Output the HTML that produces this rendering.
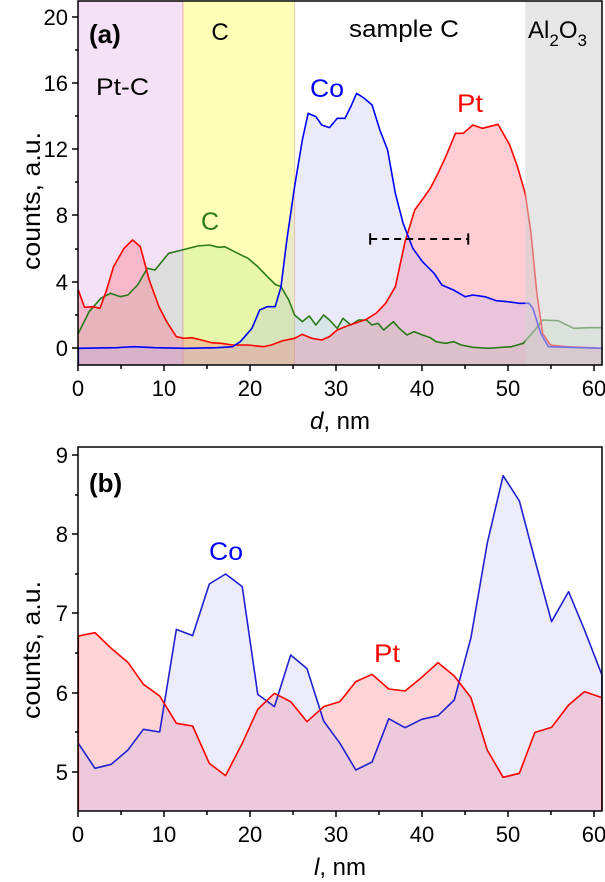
<!DOCTYPE html>
<html><head><meta charset="utf-8"><style>
html,body{margin:0;padding:0;background:#fff}
svg{display:block}
text{font-family:"Liberation Sans",Arial,sans-serif;fill:#000}
.ln{fill:none;stroke-width:1.6;vector-effect:non-scaling-stroke;stroke-linejoin:round}
</style></head><body>
<svg width="605" height="882" viewBox="0 0 605 882" xmlns="http://www.w3.org/2000/svg">
<!-- TOP PANEL -->
<g transform="scale(0.38760,0.33333)">
<rect x="202" y="3" width="270" height="1092" fill="#f5e1f5"/>
<rect x="472" y="3" width="288" height="1092" fill="#ffffb8"/>
<line x1="472" y1="3" x2="472" y2="1095" stroke="#f4a8c0" stroke-width="1" vector-effect="non-scaling-stroke"/>
<line x1="760" y1="3" x2="760" y2="1095" stroke="#f8c8a0" stroke-width="1" vector-effect="non-scaling-stroke"/>
<path d="M202,1095 L202,1000 230,935 260,895 285,880 310,890 330,885 355,855 380,805 400,810 435,760 470,750 510,738 540,735 565,742 580,740 610,758 640,775 665,800 690,830 710,853 725,860 745,900 760,945 780,965 798,948 815,975 835,945 850,960 870,985 885,955 905,975 925,960 945,960 960,975 975,970 990,990 1015,965 1030,985 1050,1005 1068,995 1090,1005 1110,1013 1125,1025 1150,1030 1170,1025 1190,1035 1220,1042 1260,1045 1320,1040 1350,1030 1380,990 1400,960 1440,962 1480,985 1520,983 1555,983 L1555,1095Z" fill="rgba(90,200,90,0.15)"/>
<path d="M202,1095 L202,870 218,922 240,920 258,925 275,870 293,800 320,745 342,720 362,740 385,840 410,920 430,965 455,1010 475,1015 495,1013 520,1020 545,1028 570,1030 600,1035 640,1035 680,1040 700,1035 730,1022 760,1015 780,1003 805,1015 830,1020 850,1010 870,990 895,978 920,968 945,958 970,940 995,910 1020,860 1045,725 1070,630 1095,590 1110,565 1130,520 1150,470 1175,400 1195,400 1220,375 1245,385 1285,373 1315,435 1335,500 1355,580 1370,700 1385,880 1400,1000 1420,1035 1460,1040 1555,1045 L1555,1095Z" fill="rgba(255,90,110,0.30)"/>
<path d="M202,1095 L202,1045 300,1043 345,1040 400,1043 480,1045 560,1043 600,1040 620,1025 650,985 670,930 690,920 710,920 725,860 740,720 760,560 780,420 795,340 815,350 830,375 850,383 870,355 890,355 905,320 920,280 940,295 960,315 980,390 1000,450 1020,580 1040,670 1065,745 1090,785 1120,820 1140,855 1170,870 1200,890 1220,885 1250,890 1280,902 1310,905 1340,910 1365,910 1375,925 1395,1000 1415,1040 1555,1045 L1555,1095Z" fill="rgba(170,170,240,0.25)"/>
<path class="ln" stroke="#2a7a1a" d="M202,1000 230,935 260,895 285,880 310,890 330,885 355,855 380,805 400,810 435,760 470,750 510,738 540,735 565,742 580,740 610,758 640,775 665,800 690,830 710,853 725,860 745,900 760,945 780,965 798,948 815,975 835,945 850,960 870,985 885,955 905,975 925,960 945,960 960,975 975,970 990,990 1015,965 1030,985 1050,1005 1068,995 1090,1005 1110,1013 1125,1025 1150,1030 1170,1025 1190,1035 1220,1042 1260,1045 1320,1040 1350,1030 1380,990 1400,960 1440,962 1480,985 1520,983 1555,983"/>
<path class="ln" stroke="#ff0000" d="M202,870 218,922 240,920 258,925 275,870 293,800 320,745 342,720 362,740 385,840 410,920 430,965 455,1010 475,1015 495,1013 520,1020 545,1028 570,1030 600,1035 640,1035 680,1040 700,1035 730,1022 760,1015 780,1003 805,1015 830,1020 850,1010 870,990 895,978 920,968 945,958 970,940 995,910 1020,860 1045,725 1070,630 1095,590 1110,565 1130,520 1150,470 1175,400 1195,400 1220,375 1245,385 1285,373 1315,435 1335,500 1355,580 1370,700 1385,880 1400,1000 1420,1035 1460,1040 1555,1045"/>
<path class="ln" stroke="#0000ff" d="M202,1095 202,1045 300,1043 345,1040 400,1043 480,1045 560,1043 600,1040 620,1025 650,985 670,930 690,920 710,920 725,860 740,720 760,560 780,420 795,340 815,350 830,375 850,383 870,355 890,355 905,320 920,280 940,295 960,315 980,390 1000,450 1020,580 1040,670 1065,745 1090,785 1120,820 1140,855 1170,870 1200,890 1220,885 1250,890 1280,902 1310,905 1340,910 1365,910 1375,925 1395,1000 1415,1040 1555,1045"/>
<rect x="1355" y="3" width="200" height="1092" fill="rgba(210,210,210,0.55)"/>
<line x1="955" y1="717" x2="1208" y2="717" stroke="#000" stroke-width="2" stroke-dasharray="7,5" vector-effect="non-scaling-stroke"/>
<line x1="955" y1="700" x2="955" y2="734" stroke="#000" stroke-width="2" vector-effect="non-scaling-stroke"/>
<line x1="1208" y1="700" x2="1208" y2="734" stroke="#000" stroke-width="2" vector-effect="non-scaling-stroke"/>
</g>
<rect x="78" y="1" width="524" height="364" fill="none" stroke="#000" stroke-width="1.5"/>
<g stroke="#000" stroke-width="1.5">
<line x1="72" y1="17" x2="78" y2="17"/><line x1="72" y1="83" x2="78" y2="83"/><line x1="72" y1="149" x2="78" y2="149"/><line x1="72" y1="215" x2="78" y2="215"/><line x1="72" y1="282" x2="78" y2="282"/><line x1="72" y1="348" x2="78" y2="348"/>
<line x1="75" y1="50" x2="78" y2="50"/><line x1="75" y1="116" x2="78" y2="116"/><line x1="75" y1="182" x2="78" y2="182"/><line x1="75" y1="249" x2="78" y2="249"/><line x1="75" y1="315" x2="78" y2="315"/>
<line x1="78" y1="365" x2="78" y2="371"/><line x1="164" y1="365" x2="164" y2="371"/><line x1="250" y1="365" x2="250" y2="371"/><line x1="336" y1="365" x2="336" y2="371"/><line x1="422" y1="365" x2="422" y2="371"/><line x1="508" y1="365" x2="508" y2="371"/><line x1="594" y1="365" x2="594" y2="371"/>
<line x1="121" y1="365" x2="121" y2="369"/><line x1="207" y1="365" x2="207" y2="369"/><line x1="293" y1="365" x2="293" y2="369"/><line x1="379" y1="365" x2="379" y2="369"/><line x1="465" y1="365" x2="465" y2="369"/><line x1="551" y1="365" x2="551" y2="369"/>
</g>
<g font-size="22" text-anchor="end">
<text x="68" y="25">20</text><text x="68" y="91">16</text><text x="68" y="157">12</text><text x="68" y="223">8</text><text x="68" y="290">4</text><text x="68" y="356">0</text>
</g>
<g font-size="22" text-anchor="middle">
<text x="78" y="396">0</text><text x="164" y="396">10</text><text x="250" y="396">20</text><text x="336" y="396">30</text><text x="422" y="396">40</text><text x="508" y="396">50</text><text x="594" y="396">60</text>
</g>
<text x="340" y="429" font-size="24" text-anchor="middle"><tspan font-style="italic">d</tspan>, nm</text>
<text transform="translate(40,201) rotate(-90)" font-size="25" text-anchor="middle" textLength="138" lengthAdjust="spacingAndGlyphs">counts, a.u.</text>
<text x="89" y="43" font-size="26" font-weight="bold">(a)</text>
<text x="220" y="40" font-size="24" text-anchor="middle">C</text>
<text x="349" y="37" font-size="24" textLength="110" lengthAdjust="spacingAndGlyphs">sample C</text>
<text x="528" y="38" font-size="24">Al<tspan font-size="17" dy="8">2</tspan><tspan dy="-8">O</tspan><tspan font-size="17" dy="8">3</tspan></text>
<text x="96" y="95" font-size="24" textLength="53" lengthAdjust="spacingAndGlyphs">Pt-C</text>
<text x="310" y="97" font-size="25" style="fill:#0000ff" textLength="34" lengthAdjust="spacingAndGlyphs">Co</text>
<text x="457" y="112" font-size="25" style="fill:#ff0000" textLength="26" lengthAdjust="spacingAndGlyphs">Pt</text>
<text x="201" y="230" font-size="25" style="fill:#2a7a1a">C</text>

<!-- BOTTOM PANEL -->
<g transform="translate(0,440) scale(0.38760,0.33333)">
<path d="M202,1113 L202,588 245,578 287,625 330,667 370,733 412,768 455,850 497,858 540,970 582,1007 625,910 665,808 708,760 750,785 792,845 835,800 877,785 918,725 960,703 1003,747 1045,753 1088,712 1130,668 1172,708 1215,773 1257,930 1298,1012 1340,1000 1380,877 1423,862 1467,795 1508,755 1553,773 L1553,1113Z" fill="rgba(255,100,110,0.28)"/>
<path d="M202,1113 L202,910 245,985 287,973 330,930 370,868 412,876 455,568 497,587 540,432 582,402 625,440 665,763 708,800 750,645 792,686 835,843 877,910 918,990 960,966 1003,836 1045,863 1088,838 1130,827 1172,780 1215,593 1257,310 1298,107 1340,183 1380,360 1423,545 1467,455 1508,570 1553,705 L1553,1113Z" fill="rgba(170,170,240,0.22)"/>
<path class="ln" stroke="#2020d0" d="M202,910 245,985 287,973 330,930 370,868 412,876 455,568 497,587 540,432 582,402 625,440 665,763 708,800 750,645 792,686 835,843 877,910 918,990 960,966 1003,836 1045,863 1088,838 1130,827 1172,780 1215,593 1257,310 1298,107 1340,183 1380,360 1423,545 1467,455 1508,570 1553,705 1553,770"/>
<path class="ln" stroke="#ff0000" d="M202,1113 202,588 245,578 287,625 330,667 370,733 412,768 455,850 497,858 540,970 582,1007 625,910 665,808 708,760 750,785 792,845 835,800 877,785 918,725 960,703 1003,747 1045,753 1088,712 1130,668 1172,708 1215,773 1257,930 1298,1012 1340,1000 1380,877 1423,862 1467,795 1508,755 1553,773 1553,1113"/>
</g>
<rect x="78" y="447" width="524" height="364" fill="none" stroke="#000" stroke-width="1.5"/>
<g stroke="#000" stroke-width="1.5">
<line x1="72" y1="455" x2="78" y2="455"/><line x1="72" y1="534" x2="78" y2="534"/><line x1="72" y1="613" x2="78" y2="613"/><line x1="72" y1="693" x2="78" y2="693"/><line x1="72" y1="772" x2="78" y2="772"/>
<line x1="75" y1="495" x2="78" y2="495"/><line x1="75" y1="574" x2="78" y2="574"/><line x1="75" y1="653" x2="78" y2="653"/><line x1="75" y1="732" x2="78" y2="732"/>
<line x1="78" y1="811" x2="78" y2="817"/><line x1="164" y1="811" x2="164" y2="817"/><line x1="250" y1="811" x2="250" y2="817"/><line x1="336" y1="811" x2="336" y2="817"/><line x1="422" y1="811" x2="422" y2="817"/><line x1="508" y1="811" x2="508" y2="817"/><line x1="594" y1="811" x2="594" y2="817"/>
<line x1="121" y1="811" x2="121" y2="815"/><line x1="207" y1="811" x2="207" y2="815"/><line x1="293" y1="811" x2="293" y2="815"/><line x1="379" y1="811" x2="379" y2="815"/><line x1="465" y1="811" x2="465" y2="815"/><line x1="551" y1="811" x2="551" y2="815"/>
</g>
<g font-size="22" text-anchor="end">
<text x="68" y="463">9</text><text x="68" y="542">8</text><text x="68" y="621">7</text><text x="68" y="701">6</text><text x="68" y="780">5</text>
</g>
<g font-size="22" text-anchor="middle">
<text x="78" y="842">0</text><text x="164" y="842">10</text><text x="250" y="842">20</text><text x="336" y="842">30</text><text x="422" y="842">40</text><text x="508" y="842">50</text><text x="594" y="842">60</text>
</g>
<text x="340" y="875" font-size="24" text-anchor="middle"><tspan font-style="italic">l</tspan>, nm</text>
<text transform="translate(40,650) rotate(-90)" font-size="25" text-anchor="middle" textLength="138" lengthAdjust="spacingAndGlyphs">counts, a.u.</text>
<text x="89" y="492" font-size="26" font-weight="bold">(b)</text>
<text x="209" y="560" font-size="25" style="fill:#0000ff" textLength="34" lengthAdjust="spacingAndGlyphs">Co</text>
<text x="374" y="662" font-size="25" style="fill:#ff0000" textLength="26" lengthAdjust="spacingAndGlyphs">Pt</text>
</svg>
</body></html>
